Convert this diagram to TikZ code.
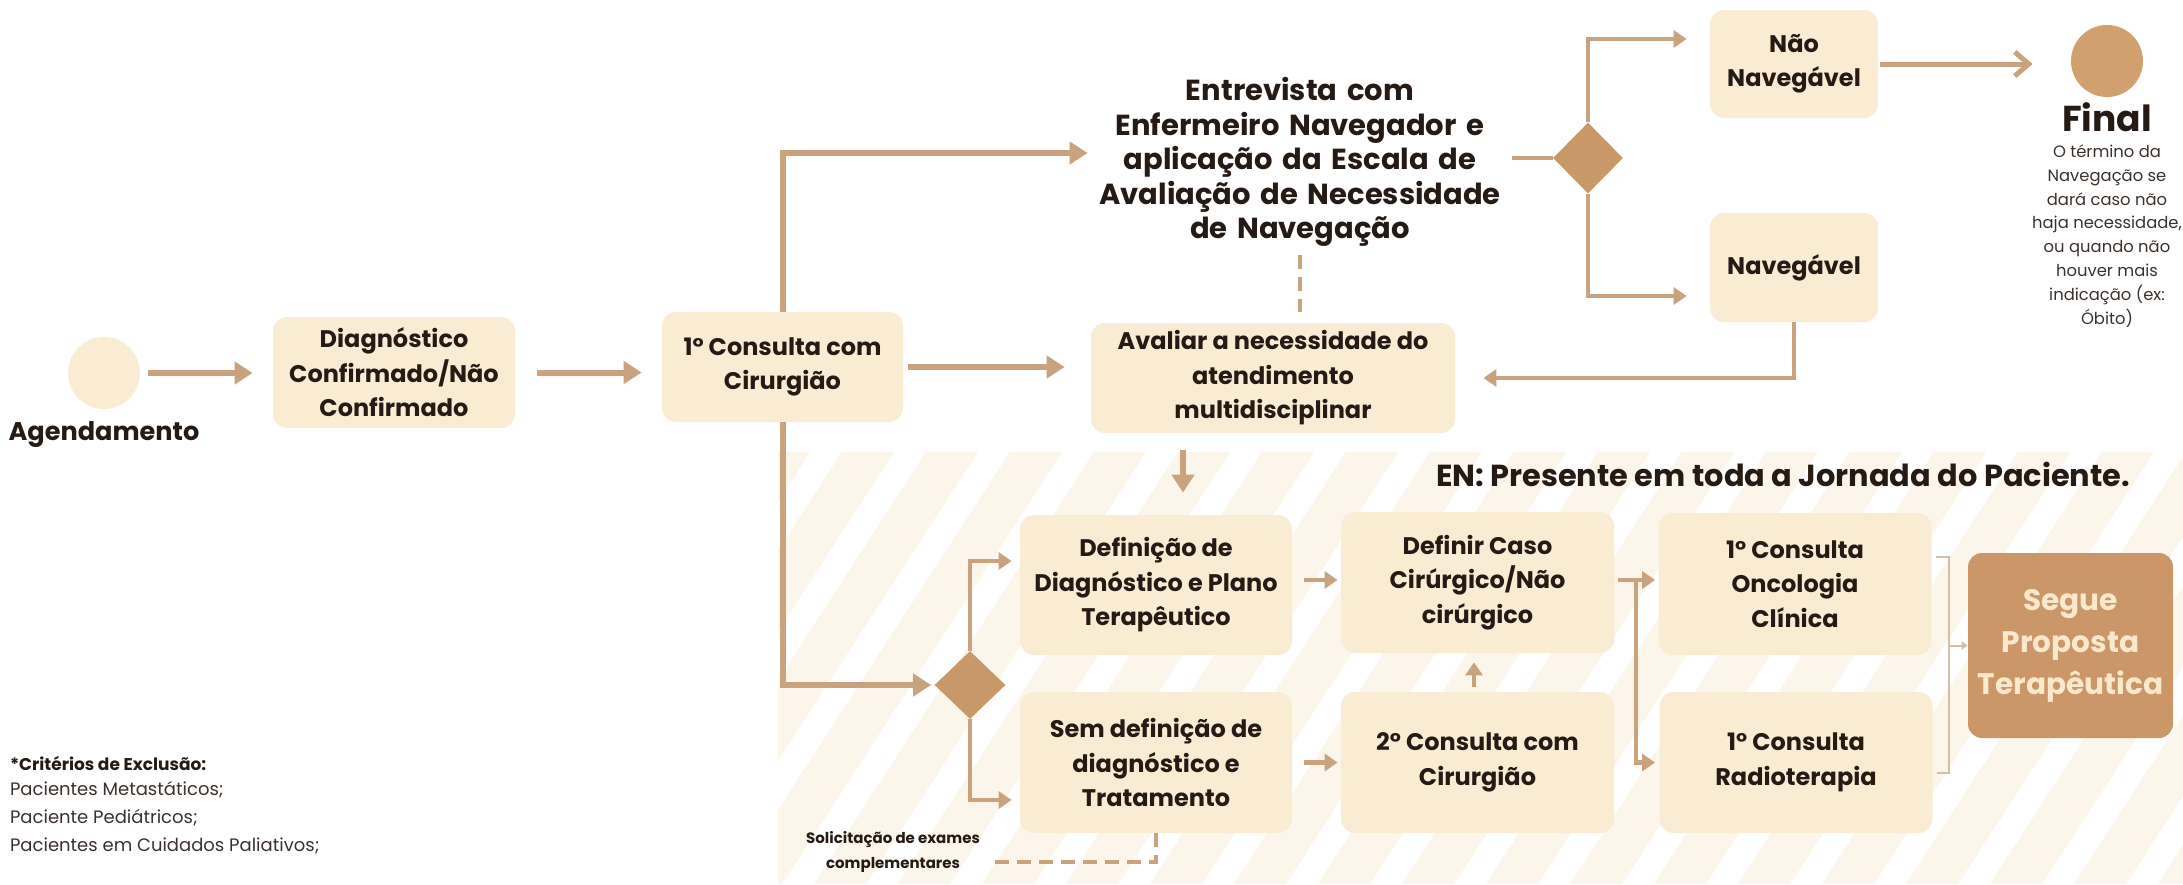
\documentclass[tikz,border=0pt]{standalone}
\usepackage{fontspec}
\setmainfont{Poppins}
\usetikzlibrary{arrows.meta,shapes.geometric,calc}
\definecolor{boxfill}{RGB}{249,236,211}
\definecolor{arr}{RGB}{201,163,125}
\definecolor{dia}{RGB}{200,152,104}
\definecolor{fincol}{RGB}{208,160,110}
\definecolor{segfill}{RGB}{203,151,104}
\definecolor{segtxt}{RGB}{251,233,206}
\definecolor{txt}{RGB}{38,27,20}
\definecolor{legtxt}{RGB}{60,50,45}
\definecolor{stripe}{RGB}{252,245,233}
\definecolor{brk}{RGB}{214,190,165}
\begin{document}
\begin{tikzpicture}[x=0.5pt,y=-0.5pt,
  box/.style={fill=boxfill, rounded corners=7pt, align=center, text=txt, inner sep=0pt,
              font=\bfseries\fontsize{12}{17.25}\selectfont},
  diam/.style={diamond, fill=dia, inner sep=0pt},
  arrbig/.style={draw=arr, line width=3pt, -{Triangle[length=9pt,width=11pt]}},
  arrmed/.style={draw=arr, line width=2.2pt, -{Triangle[length=6.5pt,width=8.5pt]}},
  lnmed/.style={draw=arr, line width=2.2pt},
  dashln/.style={draw=arr, line width=2pt, dash pattern=on 7pt off 4pt},
  chevarr/.style={draw=arr, line width=2.5pt, -{Straight Barb[length=7pt,width=12pt]}},
  brkln/.style={draw=brk, line width=1pt},
  brkarr/.style={draw=brk, line width=1pt, -{Triangle[length=3pt,width=4pt]}},
  bigtext/.style={text=txt, font=\bfseries\fontsize{14.5}{17.3}\selectfont}
]
\useasboundingbox (0,0) rectangle (2183,884);
\fill[white] (0,0) rectangle (2183,884);

% striped background
\begin{scope}
  \clip (778,452) rectangle (2183,884);
  \foreach \i in {0,...,23} {
    \fill[stripe] ({478+\i*84},884) -- ++(52,0) -- ++(280,-432) -- ++(-52,0) -- cycle;
  }
\end{scope}

% top row
\node[circle, fill=boxfill, minimum size=36pt, inner sep=0pt] (agc) at (104,373) {};
\node[text=txt, font=\bfseries\fontsize{12.8}{16}\selectfont] (agl) at (104,435) {Agendamento};
\node[box, minimum width=121pt, minimum height=55.5pt] (diag) at (394,372.5) {Diagnóstico\\Confirmado/Não\\Confirmado};
\node[box, minimum width=120.5pt, minimum height=55pt] (c1) at (782.5,367) {1° Consulta com\\Cirurgião};
\node[box, minimum width=182pt, minimum height=55pt] (aval) at (1273,378) {Avaliar a necessidade do\\atendimento\\multidisciplinar};
\node[bigtext, align=center, text width=212pt, inner sep=0pt] (entre) at (1300,162)
  {Entrevista com\\Enfermeiro Navegador e\\aplicação da Escala de\\Avaliação de Necessidade\\de Navegação};
\node[diam, minimum width=35pt, minimum height=35.5pt] (d1) at (1588,158) {};
\node[box, minimum width=84pt, minimum height=54pt] (nn) at (1794,64) {Não\\Navegável};
\node[box, minimum width=84pt, minimum height=54.5pt] (nav) at (1794,267.5) {Navegável};
\node[circle, fill=fincol, minimum size=36pt, inner sep=0pt] (fin) at (2107,61) {};
\node[text=txt, font=\bfseries\fontsize{18}{20}\selectfont] (finl) at (2107,117) {Final};
\node[align=center, text=legtxt, font=\fontsize{8.2}{11.9}\selectfont] (find) at (2107,236)
  {O término da\\Navegação se\\dará caso não\\haja necessidade,\\ou quando não\\houver mais\\indicação (ex:\\Óbito)};

% lower area
\node[text=txt, font=\bfseries\fontsize{15.2}{18}\selectfont, anchor=east] (en) at (2137,474) {EN: Presente em toda a Jornada do Paciente.};
\node[box, minimum width=136pt, minimum height=70pt] (def) at (1156,585) {Definição de\\Diagnóstico e Plano\\Terapêutico};
\node[box, minimum width=136pt, minimum height=70.5pt] (sem) at (1156,762.5) {Sem definição de\\diagnóstico e\\Tratamento};
\node[box, minimum width=136.5pt, minimum height=70.5pt] (dc) at (1477.5,582.5) {Definir Caso\\Cirúrgico/Não\\cirúrgico};
\node[box, minimum width=136.5pt, minimum height=70.5pt] (c2) at (1477.5,762.5) {2° Consulta com\\Cirurgião};
\node[box, minimum width=136.5pt, minimum height=71pt] (onc) at (1795,584) {1° Consulta\\Oncologia\\Clínica};
\node[box, minimum width=136.5pt, minimum height=70.5pt] (rad) at (1796,762.5) {1° Consulta\\Radioterapia};
\node[box, fill=segfill, text=segtxt, minimum width=102.5pt, minimum height=92.5pt,
      font=\bfseries\fontsize{14.8}{21}\selectfont] (seg) at (2070.5,645.5) {Segue\\Proposta\\Terapêutica};
\node[diam, minimum width=35.5pt, minimum height=34pt] (d2) at (970,685) {};
\node[align=center, text=txt, font=\bfseries\fontsize{7.5}{12.5}\selectfont] (sol) at (893,852) {Solicitação de exames\\complementares};

% legend
\node[anchor=west, text=txt, font=\bfseries\fontsize{8.5}{10}\selectfont] (lg0) at (3,763) {*Critérios de Exclusão:};
\node[anchor=west, text=legtxt, font=\fontsize{9}{10}\selectfont] (lg1) at (3,790) {Pacientes Metastáticos;};
\node[anchor=west, text=legtxt, font=\fontsize{9}{10}\selectfont] (lg2) at (3,818) {Paciente Pediátricos;};
\node[anchor=west, text=legtxt, font=\fontsize{9}{10}\selectfont] (lg3) at (3,846) {Pacientes em Cuidados Paliativos;};

% connectors top
\draw[arrbig, shorten <=4pt, shorten >=10pt] (agc.east) -- (agc.east -| diag.west);
\draw[arrbig, shorten <=11pt, shorten >=10pt] (diag.east) -- (diag.east -| c1.west);
\draw[arrbig, shorten <=2.5pt, shorten >=13pt] (c1.east) -- (c1.east -| aval.west);
\draw[arrbig, shorten >=0pt] (c1.north) |- ([yshift=4.5pt]entre.west);
\draw[lnmed] (d1.west -| entre.east) -- (d1.west);
\draw[arrmed, shorten >=11.5pt] (d1.north) |- ([yshift=12.5pt]nn.west);
\draw[arrmed, shorten >=11.5pt] (d1.south) |- ([yshift=-14.25pt]nav.west);
\draw[chevarr, shorten <=1pt, shorten >=19pt] (nn.east) -- (nn.east -| fin.west);
\draw[arrmed, shorten >=14pt] (nav.south) |- (aval.east);
\draw[dashln, shorten <=4pt, shorten >=5.5pt] (entre.south) -- (entre.south |- aval.north);

% connectors lower
\draw[arrbig, shorten <=8.5pt, shorten >=11pt] ([xshift=-45pt]aval.south) -- ([xshift=-45pt]aval.south |- def.north);
\draw[arrbig, shorten >=1.5pt] (c1.south) |- (d2.west);
\draw[arrmed, shorten >=4pt] (d2.north) |- ([yshift=12pt]def.west);
\draw[arrmed, shorten >=4pt] (d2.south) |- ([yshift=-18.75pt]sem.west);
\draw[arrmed, shorten <=6pt, shorten >=1.5pt] ([yshift=2.5pt]def.east) -- ([yshift=2.5pt]def.east -| dc.west);
\draw[arrmed, shorten <=6pt, shorten >=1.5pt] (sem.east) -- (sem.east -| c2.west);
\draw[arrmed, shorten <=2.5pt, shorten >=4.5pt] ([xshift=-1.75pt]c2.north) -- ([xshift=-1.75pt]c2.north |- dc.south);
\draw[arrmed, shorten <=2pt, shorten >=1.5pt] ([yshift=1.25pt]dc.east) -- ([yshift=1.25pt]dc.east -| onc.west);
\coordinate (split) at ($([yshift=1.25pt]dc.east)!0.5!([yshift=1.25pt]dc.east -| onc.west)$);
\draw[arrmed, shorten >=2pt] (split) |- (rad.west);
\coordinate (bk) at ($(onc.east)+(17,-27)$);
\draw[brkln] ($(onc.east)+(4,-27)$) -- (bk) |- ($(rad.east)+(4,10)$);
\draw[brkarr] (bk |- seg.west) -- (seg.west);
\draw[dashln] (sem.south) |- ([yshift=-5pt]sol.east);
\end{tikzpicture}
\end{document}
